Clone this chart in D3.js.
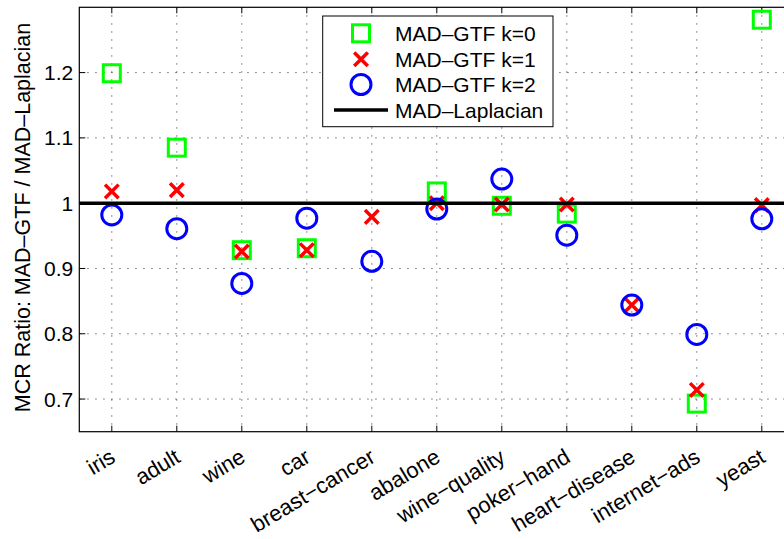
<!DOCTYPE html>
<html>
<head>
<meta charset="utf-8">
<title>MCR Ratio</title>
<script src="https://cdn.jsdelivr.net/npm/d3@7"></script>
<style>
  body { margin: 0; background: #fff; }
  text { font-family: "Liberation Sans", Arial, Helvetica, sans-serif; }
</style>
</head>
<body>
<script>
var categories = ["iris", "adult", "wine", "car", "breast−cancer", "abalone", "wine−quality",
                  "poker−hand", "heart−disease", "internet−ads", "yeast"];
// MAD-GTF / MAD-Laplacian ratios (null = not shown)
var k0 = [1.199, 1.085, 0.928, 0.931, null, 1.018, 0.996, 0.984, null, 0.693, 1.281];
var k1 = [1.018, 1.020, 0.926, 0.928, 0.979, 1.000, 0.998, 0.998, 0.844, 0.714, 0.997];
var k2 = [0.982, 0.961, 0.877, 0.977, 0.911, 0.991, 1.037, 0.951, 0.844, 0.799, 0.976];
var yTicks = [0.7, 0.8, 0.9, 1, 1.1, 1.2];
var yTickLabels = ["0.7", "0.8", "0.9", "1", "1.1", "1.2"];
var legendLabels = ["MAD–GTF k=0", "MAD–GTF k=1", "MAD–GTF k=2", "MAD–Laplacian"];

var width = 784, height = 539;
var pLeft = 79.3, pRight = 794.3, pTop = 7.3, pBottom = 431.7;

var svg = d3.select("body").append("svg")
    .attr("width", width)
    .attr("height", height);

var x = d3.scaleLinear().domain([0.5, categories.length + 0.5]).range([pLeft, pRight]);
var y = d3.scaleLinear().domain([0.65, 1.3]).range([pBottom, pTop]);

// grid
var grid = svg.append("g").attr("stroke", "#000").attr("stroke-opacity", 0.65)
    .attr("stroke-width", 1).attr("stroke-dasharray", "1.3,6.7");
grid.selectAll(".gx").data(categories).enter().append("line")
    .attr("x1", function(d, i) { return x(i + 1); })
    .attr("x2", function(d, i) { return x(i + 1); })
    .attr("y1", pTop).attr("y2", pBottom);
grid.selectAll(".gy").data(yTicks).enter().append("line")
    .attr("x1", pLeft).attr("x2", pRight)
    .attr("y1", function(d) { return y(d); })
    .attr("y2", function(d) { return y(d); });

// ticks (inward)
var ticks = svg.append("g").attr("stroke", "#000").attr("stroke-width", 1);
categories.forEach(function(d, i) {
  ticks.append("line").attr("x1", x(i + 1)).attr("x2", x(i + 1)).attr("y1", pTop).attr("y2", pTop + 6);
  ticks.append("line").attr("x1", x(i + 1)).attr("x2", x(i + 1)).attr("y1", pBottom).attr("y2", pBottom - 6);
});
yTicks.forEach(function(d) {
  ticks.append("line").attr("x1", pLeft).attr("x2", pLeft + 6).attr("y1", y(d)).attr("y2", y(d));
});

// box
svg.append("rect")
    .attr("x", pLeft).attr("y", pTop)
    .attr("width", pRight - pLeft).attr("height", pBottom - pTop)
    .attr("fill", "none").attr("stroke", "#000").attr("stroke-width", 1.2);

// y tick labels
svg.selectAll(".yl").data(yTicks).enter().append("text")
    .attr("x", pLeft - 6)
    .attr("y", function(d) { return y(d); })
    .attr("dy", "0.36em")
    .attr("text-anchor", "end")
    .attr("font-size", 21)
    .text(function(d, i) { return yTickLabels[i]; });

// x tick labels, rotated
svg.selectAll(".xl").data(categories).enter().append("text")
    .attr("transform", function(d, i) { return "translate(" + (x(i + 1) + 5) + ",461) rotate(-31)"; })
    .attr("text-anchor", "end")
    .attr("font-size", 22)
    .text(function(d) { return d; });

// y label
svg.append("text")
    .attr("transform", "translate(30," + ((pTop + pBottom) / 2 - 2) + ") rotate(-90)")
    .attr("text-anchor", "middle")
    .attr("font-size", 21.5)
    .text("MCR Ratio: MAD–GTF / MAD–Laplacian");

function drawSquare(g, cx, cy) {
  g.append("rect").attr("x", cx - 8.5).attr("y", cy - 8.5).attr("width", 17).attr("height", 17)
    .attr("fill", "none").attr("stroke", "#00ff00").attr("stroke-width", 3);
}
function drawCross(g, cx, cy) {
  var s = 6.8;
  g.append("path")
    .attr("d", "M" + (cx - s) + "," + (cy - s) + "L" + (cx + s) + "," + (cy + s) +
               "M" + (cx - s) + "," + (cy + s) + "L" + (cx + s) + "," + (cy - s))
    .attr("stroke", "#ff0000").attr("stroke-width", 3.5).attr("fill", "none");
}
function drawCircle(g, cx, cy) {
  g.append("circle").attr("cx", cx).attr("cy", cy).attr("r", 10)
    .attr("fill", "none").attr("stroke", "#0000ff").attr("stroke-width", 3);
}

var marks = svg.append("g");
k0.forEach(function(v, i) { if (v != null) drawSquare(marks, x(i + 1), y(v)); });
k1.forEach(function(v, i) { if (v != null) drawCross(marks, x(i + 1), y(v)); });
k2.forEach(function(v, i) { if (v != null) drawCircle(marks, x(i + 1), y(v)); });

// reference line
svg.append("line")
    .attr("x1", pLeft).attr("x2", pRight)
    .attr("y1", y(1)).attr("y2", y(1))
    .attr("stroke", "#000").attr("stroke-width", 3.5);

// legend
var lg = svg.append("g");
lg.append("rect").attr("x", 322.7).attr("y", 16).attr("width", 230.3).attr("height", 110.7)
    .attr("fill", "#fff").attr("stroke", "#000").attr("stroke-width", 1);
var rowY = [33.3, 59.3, 84.5, 110];
drawSquare(lg, 361, rowY[0]);
drawCross(lg, 361, rowY[1]);
drawCircle(lg, 361, rowY[2]);
lg.append("line").attr("x1", 334).attr("x2", 388).attr("y1", rowY[3]).attr("y2", rowY[3])
    .attr("stroke", "#000").attr("stroke-width", 3.5);
lg.selectAll(".lt").data(legendLabels).enter().append("text")
    .attr("x", 395)
    .attr("y", function(d, i) { return rowY[i]; })
    .attr("dy", "0.36em")
    .attr("font-size", 21)
    .text(function(d) { return d; });
</script>
</body>
</html>
